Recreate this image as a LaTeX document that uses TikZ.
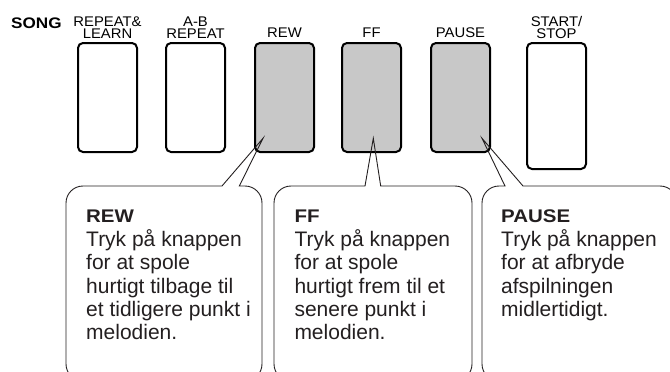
\documentclass[tikz,border=0pt]{standalone}
\usepackage{fontspec}
\setmainfont{Liberation Sans}
\newfontfamily\hdfont[FakeStretch=1.12]{Liberation Sans}
\newfontfamily\lbfont[FakeStretch=1.06]{Liberation Sans}
\definecolor{btngray}{RGB}{200,200,200}
\definecolor{ink}{RGB}{35,31,32}
\newcommand\twoline[2]{\vbox{\baselineskip=12.3pt\lineskiplimit=-20pt\halign{\hfil##\hfil\cr#1\cr#2\cr}}}
\newcommand\hd[1]{\hbox{\hdfont\bfseries\fontsize{18.3}{23.4}\selectfont #1}}
\tikzset{
  btn/.style={draw=black, line width=2pt, rounded corners=5pt, minimum width=59pt, minimum height=109pt, inner sep=0pt},
  btnon/.style={btn, fill=btngray},
  lbl/.style={inner sep=0pt, anchor=base, text=black, font=\lbfont\fontsize{14}{12.3}\selectfont},
  callout/.style={draw=ink, line width=0.9pt, line join=miter},
  ctext/.style={inner sep=0pt, anchor=base west, text=ink, font=\fontsize{21}{23.4}\selectfont}
}
\begin{document}
\begin{tikzpicture}[x=1pt, y=-1pt]
\useasboundingbox (0,0) rectangle (670,372);
\clip (0,0) rectangle (670,372);
% title
\node[inner sep=0pt, anchor=base west, font=\hdfont\bfseries\fontsize{15.3}{15}\selectfont] (song) at (11,28.3) {SONG};
% buttons
\node[btn]   (brepeat) at (107.5,97.5) {};
\node[btn]   (bab)     at (195.5,97.5) {};
\node[btnon] (brew)    at (284.5,97.5) {};
\node[btnon] (bff)     at (371.5,97.5) {};
\node[btnon] (bpause)  at (460.5,97.5) {};
\node[btn, minimum height=126pt] (bstart) at (556.5,106) {};
% labels
\node[lbl] (lrepeat) at (107.5,38.3) {\twoline{REPEAT\&}{LEARN}};
\node[lbl] (lab)     at (195.5,38.3) {\twoline{A-B}{REPEAT}};
\node[lbl] (lrew)    at (284.5,37.8) {REW};
\node[lbl] (lff)     at (371.5,37.8) {FF};
\node[lbl] (lpause)  at (460.5,37.8) {PAUSE};
\node[lbl] (lstart)  at (556.5,38.3) {\twoline{START/}{STOP}};
% pointer tips
\coordinate (trew) at (263,138.3);
\coordinate (tff) at (373.3,138.3);
\coordinate (tpause) at (482,138.3);
% callouts
\draw[callout] (66,364) -- (66,203) arc (180:270:17) -- (222,186) -- (trew) -- (239.3,186)
  -- (245,186) arc (270:360:17) -- (262,364) arc (0:90:17) -- (83,381) arc (90:180:17) -- cycle;
\draw[callout] (274,364) -- (274,203) arc (180:270:17) -- (365,186) -- (tff) -- (380.7,186)
  -- (455,186) arc (270:360:17) -- (472,364) arc (0:90:17) -- (291,381) arc (90:180:17) -- cycle;
\draw[callout] (482,364) -- (482,203) arc (180:270:17) -- (505,186) -- (tpause) -- (523,186)
  -- (660,186) arc (270:360:17) -- (677,364) arc (0:90:17) -- (499,381) arc (90:180:17) -- cycle;
% callout texts
\node[ctext] (xrew) at (86,222.9) {\vtop{\hd{REW}\hbox{Tryk på knappen}\hbox{for at spole}\hbox{hurtigt tilbage til}\hbox{et tidligere punkt i}\hbox{melodien.}}};
\node[ctext] (xff) at (294.3,222.9) {\vtop{\hd{FF}\hbox{Tryk på knappen}\hbox{for at spole}\hbox{hurtigt frem til et}\hbox{senere punkt i}\hbox{melodien.}}};
\node[ctext] (xpause) at (501,222.9) {\vtop{\hd{PAUSE}\hbox{Tryk på knappen}\hbox{for at afbryde}\hbox{afspilningen}\hbox{midlertidigt.}}};
\end{tikzpicture}
\end{document}
